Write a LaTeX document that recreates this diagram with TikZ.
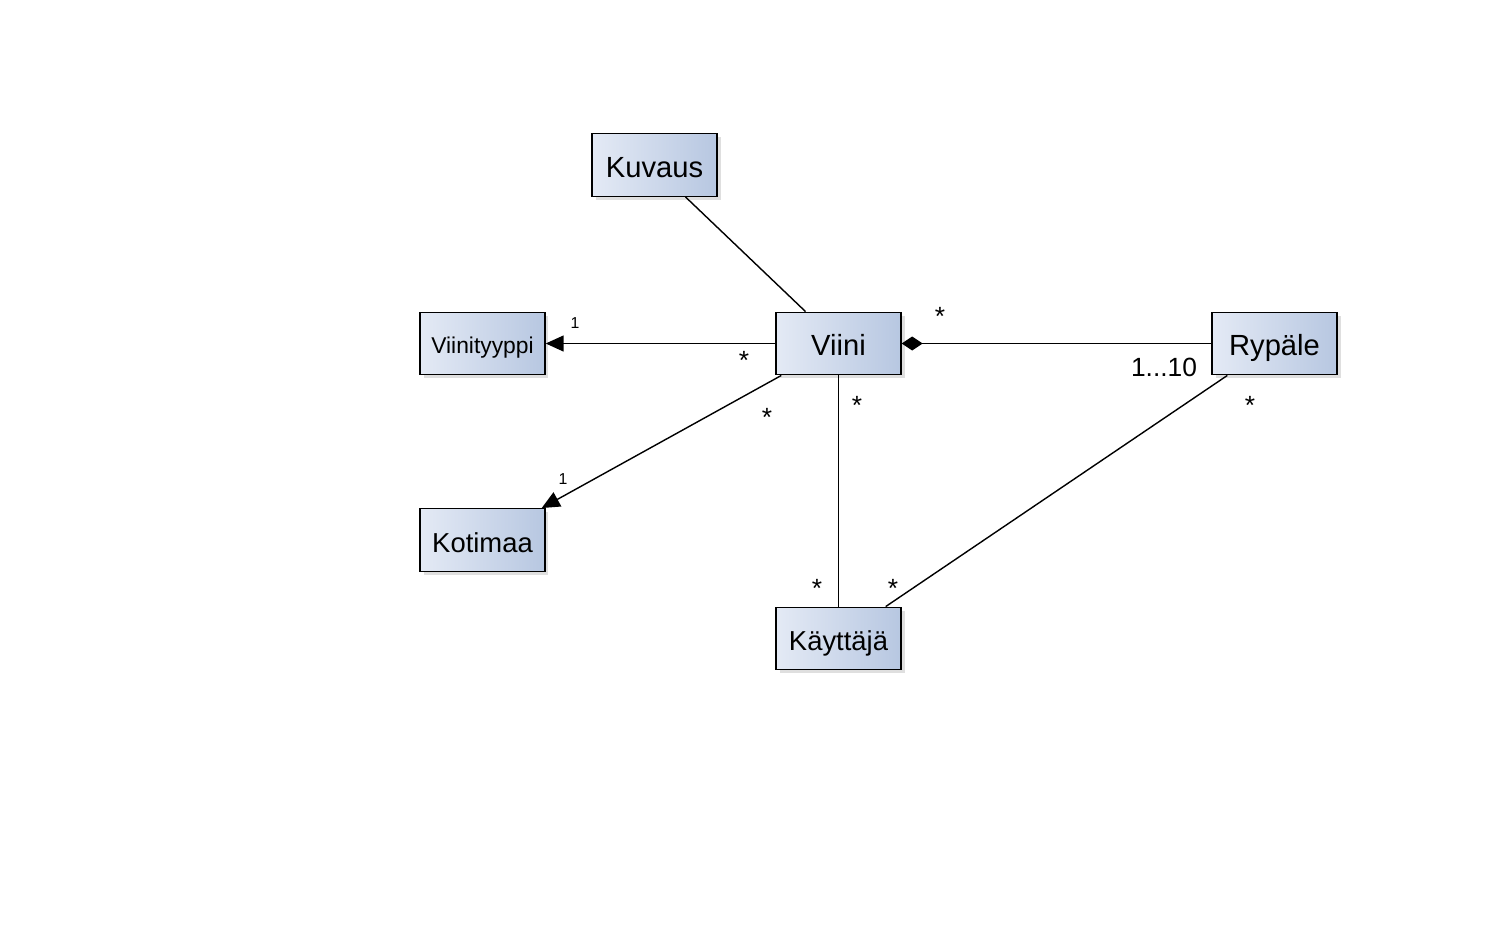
\documentclass[tikz,border=0pt]{standalone}
\usepackage{fontspec}
\setmainfont{Liberation Sans}
\usetikzlibrary{arrows.meta,positioning,calc,shadows}
\definecolor{boxlight}{HTML}{E4EAF5}
\definecolor{boxdark}{HTML}{B7C7E1}

\begin{document}
\begin{tikzpicture}[x=0.02cm,y=-0.02cm,
  cls/.style={draw,line width=0.8pt,left color=boxlight,right color=boxdark,minimum width=2.5cm,minimum height=1.25cm,inner sep=0pt,text height=14.5pt,text depth=0.3pt,font=\fontsize{16.6}{19}\selectfont,drop shadow={opacity=0.25,shadow xshift=0.07cm,shadow yshift=-0.07cm}},
  assoc/.style={line width=0.8pt},
  mult/.style={font=\fontsize{15}{17}\selectfont,anchor=base,inner sep=0pt},
  one/.style={font=\fontsize{9}{10}\selectfont,inner sep=0pt}]
  \useasboundingbox (0,0) rectangle (1506,940);
  \node[cls] (kuvaus) at (654.5,165) {Kuvaus};
  \node[cls,font=\fontsize{13}{15}\selectfont,text height=11.8pt,text depth=0.2pt] (tyyppi) at (482.5,343.5) {Viinityyppi};
  \node[cls] (viini) at (838.5,343.5) {Viini};
  \node[cls] (rypale) at (1274.5,343.5) {Rypäle};
  \node[cls,font=\fontsize{15.6}{18}\selectfont] (kotimaa) at (482.5,540) {Kotimaa};
  \node[cls,font=\fontsize{15.6}{18}\selectfont] (kayttaja) at (838.5,638.5) {Käyttäjä};
  \draw[assoc] ($(kuvaus.south)+(31,0)$) -- ($(viini.north)+(-33,0)$);
  \draw[assoc,-{Triangle[length=0.36cm,width=0.32cm]}] (viini) -- (tyyppi);
  \draw[assoc,{Diamond[length=0.42cm,width=0.28cm]}-] (viini) -- (rypale);
  \draw[assoc,-{Triangle[length=0.36cm,width=0.32cm]}] ($(viini.south west)+(6,0)$) -- ($(kotimaa.north east)+(-4,0)$);
  \draw[assoc] (viini) -- (kayttaja);
  \draw[assoc] ($(rypale.south west)+(16,0)$) -- ($(kayttaja.north east)+(-16,0)$);
  \node[one] (tyyppione) at (575,323) {1};
  \node[mult] (tyyppimany) at (744,369) {*};
  \node[mult] (rypalemany) at (940,325) {*};
  \node[mult,anchor=center] (rypaleten) at (1164,367) {1...10};
  \node[one] (kotimaaone) at (563,479) {1};
  \node[mult] (kotimaamany) at (767,426) {*};
  \node[mult] (kayttajaviini) at (857,414) {*};
  \node[mult] (viinikayttaja) at (817,597) {*};
  \node[mult] (rypalekayttaja) at (893,597) {*};
  \node[mult] (kayttajarypale) at (1250,414) {*};
\end{tikzpicture}
\end{document}
